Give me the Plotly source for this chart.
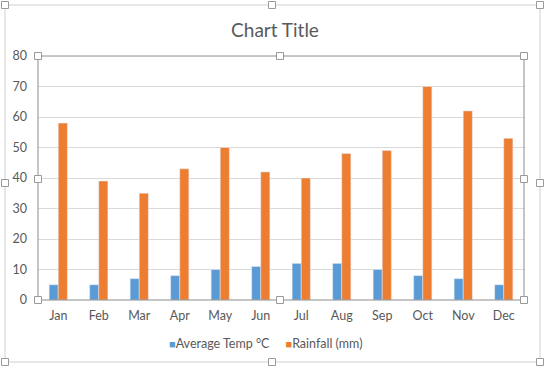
import plotly.graph_objects as go

months = ["Jan", "Feb", "Mar", "Apr", "May", "Jun", "Jul", "Aug", "Sep", "Oct", "Nov", "Dec"]
avg_temp = [5, 5, 7, 8, 10, 11, 12, 12, 10, 8, 7, 5]
rainfall = [58, 39, 35, 43, 50, 42, 40, 48, 49, 70, 62, 53]
series_names = ["Average Temp °C", "Rainfall (mm)"]
series_colors = ["#5B9BD5", "#ED7D31"]

W, H = 550, 370
L, R, T, B = 38, 524, 56, 300

def px(x):
    return (x - L) / (R - L)

def py(y):
    return (B - y) / (B - T)

fig = go.Figure()
fig.add_trace(go.Bar(x=months, y=avg_temp, name=series_names[0], marker_color=series_colors[0]))
fig.add_trace(go.Bar(x=months, y=rainfall, name=series_names[1], marker_color=series_colors[1]))

shapes = []
shapes.append(dict(type="rect", xref="paper", yref="paper", x0=px(5), x1=px(540), y0=py(362), y1=py(5),
                   line=dict(color="#D0D0D0", width=1), fillcolor="rgba(0,0,0,0)", layer="below"))
shapes.append(dict(type="rect", xref="paper", yref="paper", x0=0, x1=1, y0=0, y1=1,
                   line=dict(color="#8C8C8C", width=1), fillcolor="rgba(0,0,0,0)", layer="above"))

def handle(x, y, s=3.5):
    return dict(type="rect", xref="paper", yref="paper",
                x0=px(x - s), x1=px(x + s), y0=py(y + s), y1=py(y - s),
                line=dict(color="#9A9A9A", width=1), fillcolor="white", layer="above")

for (hx, hy) in [(5, 5), (272, 5), (540, 5), (5, 183), (540, 183), (5, 362), (272, 362), (540, 362)]:
    shapes.append(handle(hx, hy))
for (hx, hy) in [(L, T), (280, T), (R, T), (L, 179), (R, 179), (L, B), (280, B), (R, B)]:
    shapes.append(handle(hx, hy))

font_family = "Lato, Open Sans, sans-serif"

legend_text = (
    f"<span style='color:{series_colors[0]};font-size:11px'>■</span>{series_names[0]}"
    "&nbsp;&nbsp;&nbsp;&nbsp;&nbsp;"
    f"<span style='color:{series_colors[1]};font-size:11px'>■</span>{series_names[1]}"
)

fig.update_layout(
    width=W, height=H,
    margin=dict(l=L, r=W - R, t=T, b=H - B),
    paper_bgcolor="white", plot_bgcolor="white",
    barmode="group", bargap=0.55, bargroupgap=0,
    showlegend=False,
    title=dict(text="Chart Title", x=0.5, xanchor="center", y=1 - 30 / H, yanchor="middle",
               font=dict(family=font_family, size=19, color="#595959")),
    font=dict(family=font_family, size=12, color="#595959"),
    annotations=[dict(text=legend_text, xref="paper", yref="paper", x=px(266), y=py(343),
                      xanchor="center", yanchor="middle", showarrow=False,
                      font=dict(family=font_family, size=12.5, color="#595959"))],
    shapes=shapes,
    xaxis=dict(showgrid=False, ticks="", tickfont=dict(size=12.5, color="#595959"),
               showline=False, fixedrange=True, ticklabelstandoff=6),
    yaxis=dict(range=[0, 80], dtick=10, showgrid=True, gridcolor="#D9D9D9", gridwidth=1,
               zeroline=False, showline=False, ticks="", ticklabelstandoff=10,
               tickfont=dict(size=12.5, color="#595959"), fixedrange=True),
)

fig.write_html("out.html", config={"displayModeBar": False},
               post_script="document.body.style.margin='0';document.body.style.overflow='hidden';")
